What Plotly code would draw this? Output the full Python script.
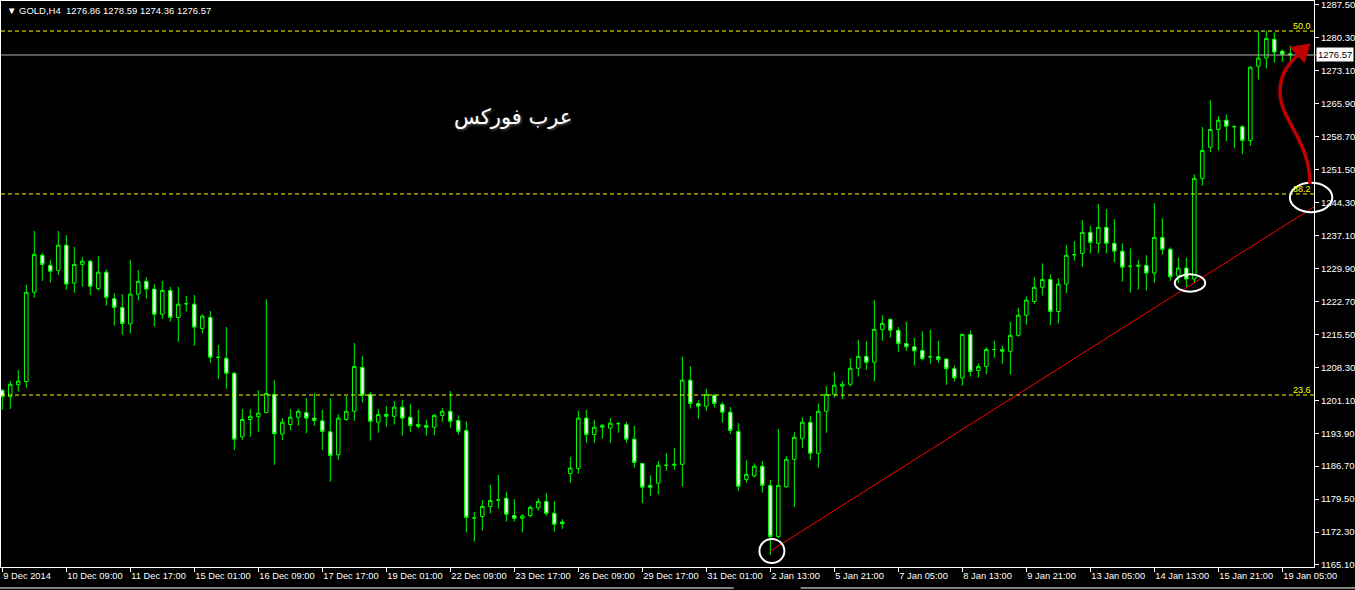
import plotly.graph_objects as go

# ---------------- data (GOLD, H4) ----------------
opens = [
    1203.3, 1201.9, 1204.5, 1205.2, 1224.7, 1232.8, 1230.6, 1229.5, 1235.0, 1226.7,
    1230.8, 1231.5, 1225.5, 1229.1, 1223.3, 1221.4, 1217.8, 1224.3, 1227.1, 1225.4,
    1219.9, 1225.1, 1219.2, 1222.2, 1222.1, 1216.8, 1219.2, 1210.5, 1210.3, 1207.0,
    1193.1, 1196.9, 1197.5, 1198.4, 1202.4, 1193.7, 1195.8, 1197.4, 1198.4, 1197.2,
    1196.6, 1194.2, 1189.2, 1196.9, 1198.7, 1208.3, 1202.4, 1196.3, 1198.0, 1197.6,
    1199.6, 1197.4, 1195.8, 1195.6, 1195.2, 1197.8, 1198.7, 1196.7, 1194.5, 1175.4,
    1175.7, 1177.9, 1179.3, 1179.7, 1175.9, 1175.3, 1175.9, 1177.6, 1179.0, 1176.4,
    1174.5, 1185.1, 1186.2, 1197.2, 1193.6, 1195.2, 1195.0, 1196.0, 1195.8, 1192.6,
    1187.3, 1182.5, 1183.0, 1186.9, 1186.9, 1187.1, 1205.5, 1200.4, 1199.8, 1202.2,
    1200.2, 1198.5, 1194.3, 1183.8, 1184.6, 1186.7, 1182.5, 1171.3, 1182.2, 1188.2,
    1192.8, 1196.3, 1189.5, 1198.7, 1202.4, 1204.2, 1204.6, 1208.1, 1210.7, 1209.4,
    1216.6, 1218.8, 1216.4, 1213.5, 1212.8, 1212.0, 1210.6, 1210.6, 1210.1, 1208.0,
    1206.0, 1215.5, 1207.6, 1208.5, 1212.2, 1211.8, 1211.8, 1215.3, 1219.7, 1222.7,
    1225.8, 1227.5, 1220.5, 1226.5, 1232.9, 1233.2, 1237.8, 1235.4, 1238.9, 1235.4,
    1233.7, 1230.4, 1230.4, 1230.6, 1228.9, 1236.7, 1234.1, 1228.3, 1230.0, 1227.6,
    1249.6, 1256.4, 1260.3, 1262.3, 1260.9, 1260.9, 1257.9, 1274.1, 1275.9, 1280.0,
    1277.4, 1276.86,
]
highs = [
    1203.5, 1205.3, 1207.7, 1226.3, 1238.1, 1233.3, 1231.8, 1238.1, 1237.2, 1234.6,
    1232.4, 1231.8, 1232.6, 1229.7, 1224.5, 1224.3, 1231.8, 1229.6, 1228.0, 1226.5,
    1227.2, 1225.9, 1225.9, 1223.9, 1224.1, 1219.9, 1220.6, 1213.2, 1217.1, 1207.3,
    1199.2, 1199.2, 1203.3, 1223.2, 1205.5, 1197.2, 1199.2, 1199.2, 1201.6, 1202.6,
    1199.0, 1201.6, 1198.0, 1202.0, 1213.6, 1210.8, 1202.9, 1199.2, 1199.9, 1200.9,
    1201.2, 1200.3, 1199.0, 1196.9, 1198.1, 1199.4, 1203.1, 1197.8, 1196.5, 1176.7,
    1179.3, 1182.6, 1184.8, 1181.1, 1179.5, 1176.2, 1178.1, 1179.7, 1180.8, 1179.0,
    1175.1, 1188.7, 1198.8, 1199.0, 1196.8, 1195.9, 1197.2, 1196.4, 1196.4, 1195.5,
    1187.3, 1184.7, 1187.8, 1189.5, 1190.7, 1210.6, 1208.6, 1201.1, 1203.6, 1202.4,
    1200.7, 1199.6, 1196.1, 1188.0, 1187.3, 1187.8, 1183.7, 1194.8, 1188.9, 1194.1,
    1197.4, 1197.7, 1200.4, 1204.2, 1207.3, 1205.3, 1210.3, 1214.3, 1214.0, 1223.0,
    1219.7, 1219.0, 1217.1, 1218.2, 1214.7, 1216.2, 1216.5, 1214.1, 1210.3, 1208.7,
    1215.7, 1216.4, 1209.2, 1212.7, 1214.1, 1213.0, 1218.2, 1221.3, 1223.8, 1228.0,
    1231.0, 1228.6, 1227.8, 1235.0, 1235.9, 1240.5, 1239.2, 1244.0, 1242.9, 1240.7,
    1235.4, 1234.3, 1231.8, 1232.8, 1244.2, 1240.9, 1234.5, 1232.3, 1232.3, 1250.5,
    1260.8, 1266.7, 1263.2, 1263.6, 1261.2, 1261.2, 1274.1, 1281.8, 1281.8, 1281.5,
    1277.8, 1278.59,
]
lows = [
    1199.0, 1199.2, 1203.0, 1203.8, 1223.5, 1227.2, 1226.8, 1228.5, 1225.2, 1224.6,
    1225.9, 1224.1, 1225.1, 1221.8, 1217.4, 1215.4, 1215.7, 1222.9, 1223.3, 1217.2,
    1218.9, 1218.3, 1213.9, 1220.5, 1213.0, 1215.7, 1209.3, 1205.8, 1203.6, 1190.2,
    1192.4, 1193.1, 1194.2, 1198.3, 1187.0, 1192.4, 1194.6, 1195.5, 1193.9, 1195.5,
    1190.2, 1183.3, 1188.1, 1196.6, 1196.6, 1200.6, 1192.3, 1194.0, 1195.3, 1195.8,
    1193.4, 1194.2, 1194.9, 1193.4, 1193.5, 1196.4, 1195.1, 1193.6, 1172.2, 1170.2,
    1172.6, 1176.4, 1177.4, 1174.6, 1174.6, 1172.2, 1175.5, 1177.0, 1175.9, 1172.4,
    1173.0, 1183.1, 1185.0, 1191.8, 1191.8, 1192.7, 1191.8, 1194.0, 1191.8, 1186.4,
    1178.6, 1180.2, 1180.5, 1185.7, 1185.9, 1182.2, 1199.3, 1197.1, 1198.8, 1199.5,
    1196.2, 1193.7, 1181.3, 1183.1, 1184.2, 1180.9, 1167.3, 1171.0, 1182.0, 1177.8,
    1190.7, 1188.0, 1186.4, 1194.0, 1201.7, 1201.4, 1204.1, 1206.3, 1207.7, 1205.2,
    1214.1, 1214.8, 1211.7, 1211.9, 1208.7, 1209.8, 1209.1, 1209.3, 1204.5, 1205.2,
    1204.3, 1206.3, 1206.0, 1206.8, 1210.4, 1209.1, 1206.7, 1215.0, 1217.6, 1222.1,
    1224.0, 1217.5, 1217.9, 1224.5, 1231.6, 1230.3, 1233.2, 1233.2, 1233.2, 1231.3,
    1227.0, 1224.6, 1225.3, 1225.1, 1226.8, 1232.9, 1227.2, 1226.7, 1225.9, 1226.7,
    1248.0, 1255.3, 1255.7, 1257.7, 1256.2, 1254.9, 1256.7, 1271.2, 1273.6, 1274.9,
    1275.1, 1274.36,
]
closes = [
    1201.9, 1204.6, 1205.3, 1224.7, 1233.0, 1230.8, 1229.3, 1235.0, 1226.5, 1230.8,
    1231.5, 1226.0, 1229.1, 1223.6, 1221.4, 1217.9, 1224.3, 1227.1, 1225.4, 1219.9,
    1225.1, 1219.2, 1222.1, 1222.2, 1217.1, 1219.5, 1210.5, 1210.5, 1207.0, 1192.6,
    1196.9, 1197.6, 1198.3, 1202.6, 1193.8, 1196.3, 1197.4, 1198.7, 1197.2, 1196.7,
    1194.3, 1189.0, 1197.2, 1198.7, 1208.5, 1202.2, 1196.5, 1198.0, 1197.6, 1199.6,
    1197.2, 1195.6, 1195.4, 1195.2, 1197.8, 1198.7, 1196.5, 1194.3, 1175.5, 1175.4,
    1177.9, 1179.2, 1179.3, 1176.2, 1175.3, 1175.8, 1177.7, 1179.0, 1176.4, 1174.0,
    1174.1, 1186.3, 1197.2, 1193.6, 1195.2, 1195.6, 1196.1, 1196.0, 1192.6, 1187.5,
    1182.1, 1182.1, 1186.9, 1186.9, 1187.1, 1205.5, 1200.4, 1199.8, 1202.4, 1200.4,
    1198.5, 1194.5, 1182.3, 1184.9, 1186.7, 1182.5, 1171.3, 1182.5, 1188.2, 1193.0,
    1196.3, 1189.5, 1198.7, 1202.4, 1204.4, 1204.6, 1208.1, 1210.7, 1209.4, 1216.6,
    1217.9, 1216.4, 1213.5, 1212.8, 1211.9, 1210.2, 1210.6, 1210.0, 1208.0, 1206.0,
    1215.5, 1207.4, 1208.5, 1212.2, 1212.2, 1212.2, 1215.3, 1219.7, 1223.0, 1225.8,
    1227.5, 1220.5, 1226.5, 1232.8, 1232.9, 1237.8, 1235.6, 1238.9, 1235.4, 1233.7,
    1230.2, 1230.4, 1230.6, 1228.9, 1236.7, 1234.1, 1228.1, 1230.0, 1227.6, 1249.6,
    1255.7, 1260.3, 1262.3, 1261.0, 1260.9, 1257.9, 1273.9, 1275.9, 1280.2, 1277.2,
    1276.7, 1276.57,
]
bars = list(range(len(opens)))

tick_bars = [0, 8, 16, 24, 32, 40, 48, 56, 64, 72, 80, 88, 96, 104, 112, 120,
             128, 136, 144, 152, 160]
tick_labels = ["9 Dec 2014", "10 Dec 09:00", "11 Dec 17:00", "15 Dec 01:00",
               "16 Dec 09:00", "17 Dec 17:00", "19 Dec 01:00", "22 Dec 09:00",
               "23 Dec 17:00", "26 Dec 09:00", "29 Dec 17:00", "31 Dec 01:00",
               "2 Jan 13:00", "5 Jan 21:00", "7 Jan 05:00", "8 Jan 13:00",
               "9 Jan 21:00", "13 Jan 05:00", "14 Jan 13:00", "15 Jan 21:00",
               "19 Jan 05:00"]
price_ticks = [1165.10, 1172.30, 1179.50, 1186.70, 1193.90, 1201.10, 1208.30,
               1215.50, 1222.70, 1229.90, 1237.10, 1244.30, 1251.50, 1258.70,
               1265.90, 1273.10, 1280.30, 1287.50]

fib_levels = [1202.25, 1246.2, 1281.8]
fib_labels = ["23.6", "38.2", "50.0"]
last_price = 1276.57
title_text = "GOLD,H4  1276.86 1278.59 1274.36 1276.57"

trend_x = [96, 163.96]
trend_y = [1168.15, 1243.38]

x_range = [-0.16, 163.96]
y_range = [1164.66, 1288.37]

FONT = "Tahoma, 'Liberation Sans', Arial, sans-serif"

fig = go.Figure()
fig.add_trace(go.Candlestick(
    x=bars, open=opens, high=highs, low=lows, close=closes,
    increasing=dict(line=dict(color="#00FF00", width=1), fillcolor="#000000"),
    decreasing=dict(line=dict(color="#00FF00", width=1), fillcolor="#FFFFFF"),
    whiskerwidth=0, hoverinfo="skip", showlegend=False,
))

shapes = []
# fib levels
for lvl in fib_levels:
    shapes.append(dict(type="line", xref="paper", x0=0, x1=1, yref="y", y0=lvl, y1=lvl,
                       line=dict(color="#FFFF00", width=1, dash="4px,3px")))
# bid line
shapes.append(dict(type="line", xref="paper", x0=0, x1=1.002, yref="y", y0=last_price, y1=last_price,
                   line=dict(color="#B4B4B4", width=1)))
# trend line
shapes.append(dict(type="line", xref="x", yref="y", x0=trend_x[0], y0=trend_y[0],
                   x1=trend_x[1], y1=trend_y[1], line=dict(color="#FF0000", width=1)))


def to_paper_x(v):
    return (v - x_range[0]) / (x_range[1] - x_range[0])


def to_paper_y(v):
    return (v - y_range[0]) / (y_range[1] - y_range[0])


# circles (bar index, price, half-width in bars, half-height in price)
circles = [(96.2, 1168.15, 1.56, 2.62), (148.46, 1226.73, 1.9, 1.9), (163.6, 1245.42, 2.65, 3.2)]
for cx, cy, rx, ry in circles:
    shapes.append(dict(type="circle", xref="paper", yref="paper",
                       x0=to_paper_x(cx - rx), x1=to_paper_x(cx + rx),
                       y0=to_paper_y(cy - ry), y1=to_paper_y(cy + ry),
                       line=dict(color="#FFFFFF", width=2)))

# red curved arrow (bar index, price)
curve = "M 163.46,1248.37 C 163.46,1257.99 159.71,1262.36 159.71,1268.48 C 159.71,1272.85 160.96,1275.0 162.2,1276.9"
shapes.append(dict(type="path", xref="x", yref="y", path=curve,
                   line=dict(color="#C00000", width=3.5)))
head = "M 163.45,1279.0 L 162.75,1274.9 L 161.0,1278.2 Z"
shapes.append(dict(type="path", xref="x", yref="y", path=head,
                   fillcolor="#C00000", line=dict(color="#C00000", width=1)))

# bottom window frame
shapes.append(dict(type="line", xref="paper", yref="paper", x0=-0.001, x1=0.558, y0=-0.0371, y1=-0.0371,
                   line=dict(color="#FFFFFF", width=1)))
shapes.append(dict(type="line", xref="paper", yref="paper", x0=0.609, x1=1.04, y0=-0.0371, y1=-0.0371,
                   line=dict(color="#FFFFFF", width=1)))

annotations = []
for lvl, lab in zip(fib_levels, fib_labels):
    annotations.append(dict(xref="paper", x=0.999, yref="y", y=lvl, text=lab, showarrow=False,
                            xanchor="right", yanchor="bottom", yshift=-2,
                            font=dict(color="#FFFF00", size=9, family=FONT)))
annotations.append(dict(xref="paper", x=1.0, yref="y", y=last_price, text=f"{last_price:.2f}",
                        showarrow=False, xanchor="left", yanchor="middle", xshift=2,
                        bgcolor="#FFFFFF", borderpad=1,
                        font=dict(color="#000000", size=9.5, family=FONT)))
annotations.append(dict(xref="paper", x=0.003, yref="paper", y=0.984, text="▼ " + title_text,
                        showarrow=False, xanchor="left", yanchor="middle",
                        font=dict(color="#FFFFFF", size=9.5, family=FONT)))
annotations.append(dict(xref="x", x=63.8, yref="y", y=1263.0, text="عرب فوركس",
                        showarrow=False, xanchor="center", yanchor="middle",
                        font=dict(color="#FFFFFF", size=21, family="DejaVu Sans",
                                  shadow="1px 1px 3px #666666")))

fig.update_layout(
    width=1355, height=590,
    margin=dict(l=1, r=41, t=1, b=23, autoexpand=False),
    paper_bgcolor="#000000", plot_bgcolor="#000000",
    showlegend=False, boxgap=0.38,
    shapes=shapes, annotations=annotations,
    font=dict(family=FONT, color="#FFFFFF", size=9),
    xaxis=dict(range=x_range, showgrid=False, zeroline=False, showline=True, mirror=True,
               linecolor="#FFFFFF", linewidth=1, ticks="outside", ticklen=4, tickcolor="#FFFFFF",
               tickvals=tick_bars, ticktext=tick_labels, ticklabelposition="outside right",
               tickangle=0, automargin=False, ticklabeloverflow="allow",
               tickfont=dict(color="#FFFFFF", size=9.3, family=FONT),
               rangeslider=dict(visible=False), fixedrange=True),
    yaxis=dict(range=y_range, side="right", showgrid=False, zeroline=False, showline=True,
               mirror=True, linecolor="#FFFFFF", linewidth=1, ticks="outside", ticklen=4,
               tickcolor="#FFFFFF", tickvals=price_ticks, automargin=False,
               ticklabeloverflow="allow",
               ticktext=[f"{v:.2f}" for v in price_ticks],
               tickfont=dict(color="#FFFFFF", size=9.5, family=FONT), fixedrange=True),
)

fig.write_html("out.html", config={"displayModeBar": False},
               post_script="document.body.style.margin='0px';document.body.style.background='#000';")
